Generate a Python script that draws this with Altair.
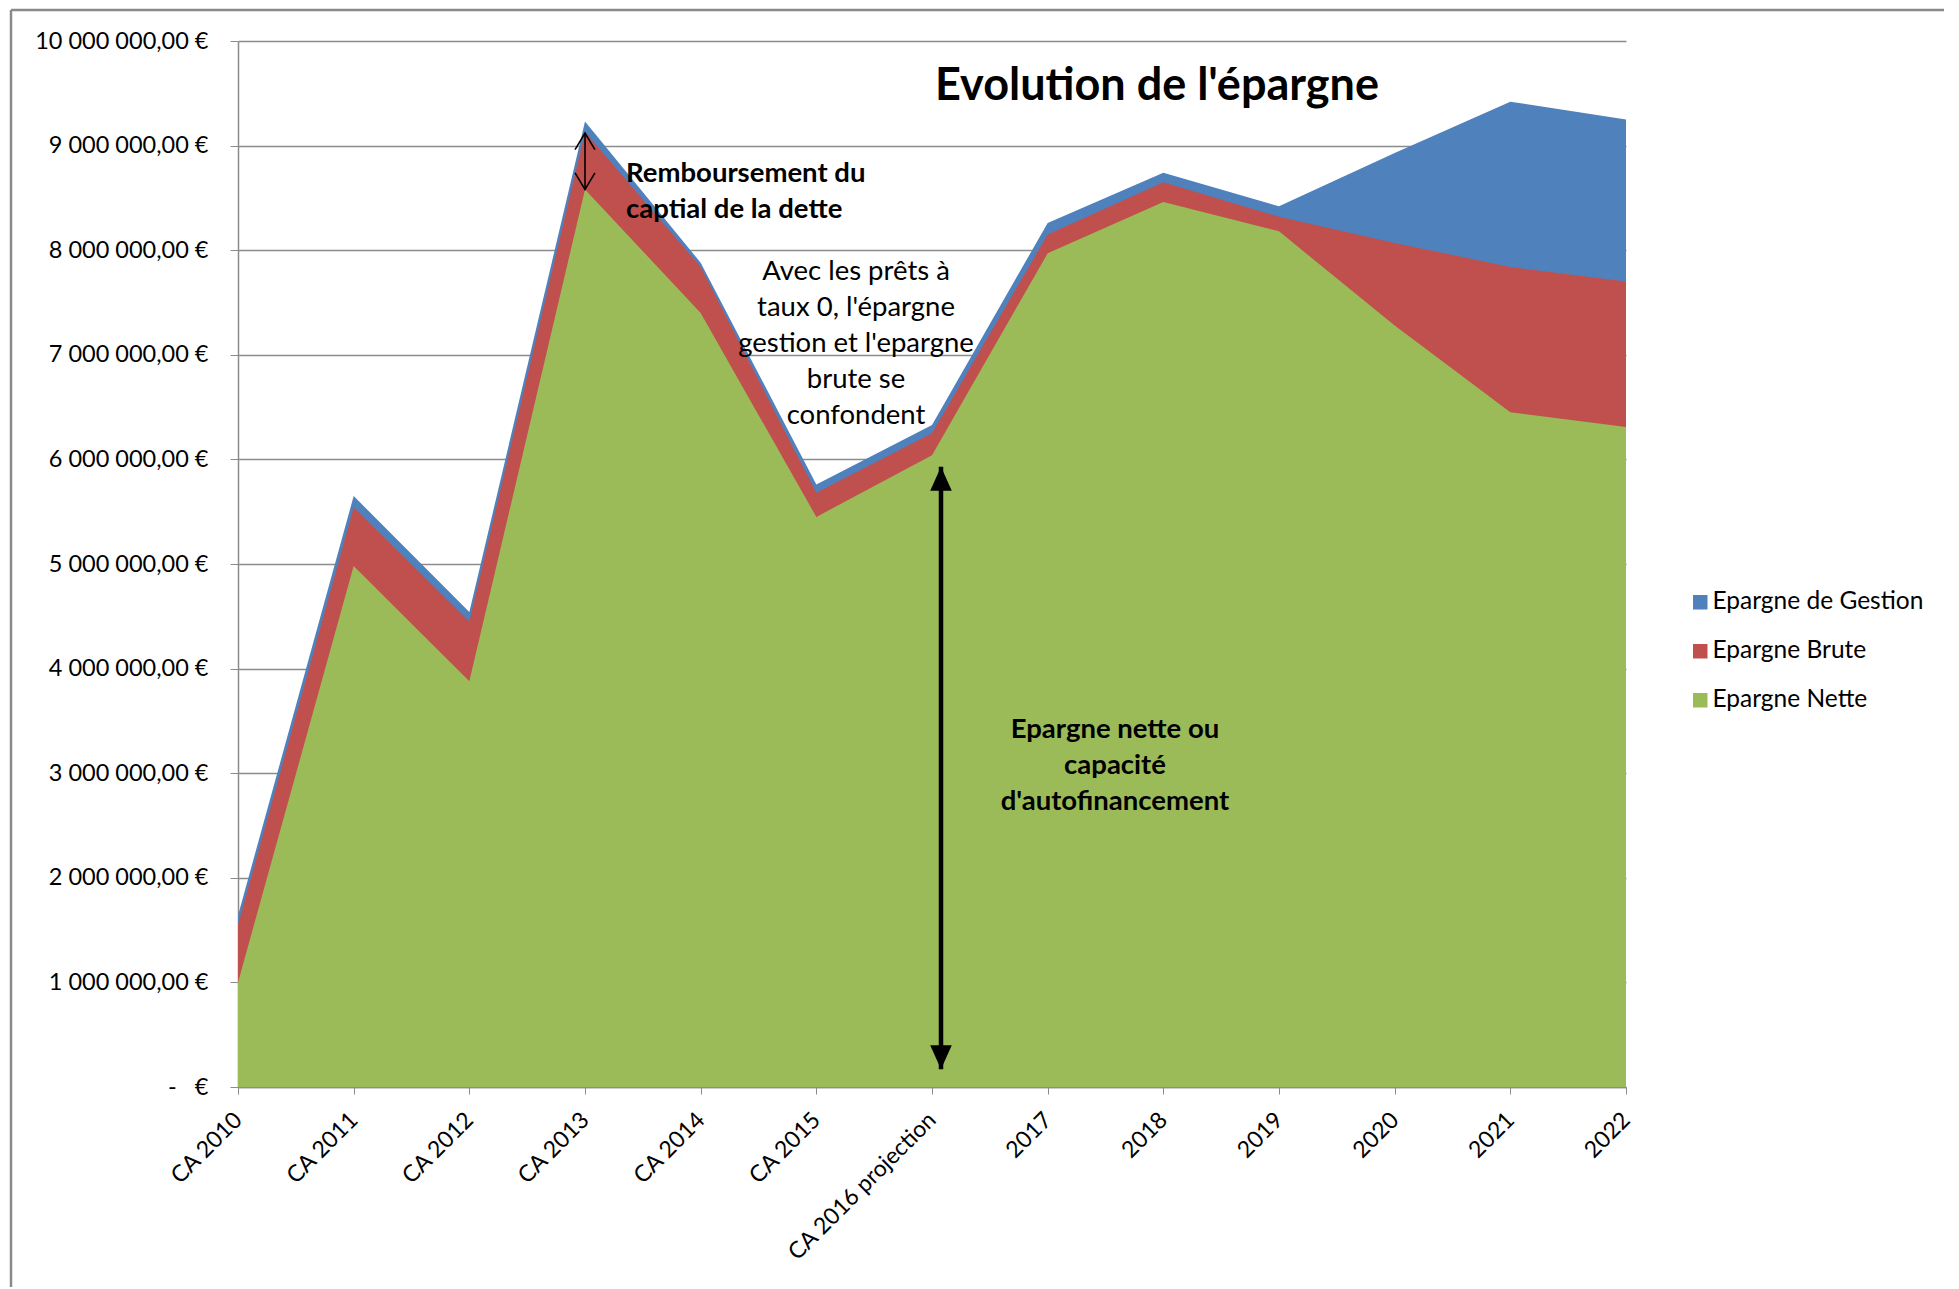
import altair as alt
import pandas as pd

# ---------------- data (values in millions of euros) ----------------
categories = ["CA 2010", "CA 2011", "CA 2012", "CA 2013", "CA 2014", "CA 2015",
              "CA 2016 projection", "2017", "2018", "2019", "2020", "2021", "2022"]
epargne_gestion = [1.64, 5.65, 4.54, 9.23, 7.88, 5.76, 6.33, 8.26, 8.74, 8.42, 8.93, 9.42, 9.25]
epargne_brute = [1.55, 5.54, 4.45, 9.13, 7.84, 5.68, 6.25, 8.15, 8.65, 8.32, 8.07, 7.84, 7.70]
epargne_nette = [1.00, 4.98, 3.88, 8.58, 7.40, 5.45, 6.04, 7.97, 8.46, 8.18, 7.28, 6.45, 6.31]

series_names = ["Epargne de Gestion", "Epargne Brute", "Epargne Nette"]
series_colors = ["#4F81BD", "#C0504D", "#9BBB59"]
y_ticks = [0, 1e6, 2e6, 3e6, 4e6, 5e6, 6e6, 7e6, 8e6, 9e6, 1e7]

title_text = "Evolution de l'épargne"
note_dette = ["Remboursement du", "captial de la dette"]
note_taux = ["Avec les prêts à", "taux 0, l'épargne", "gestion et l'epargne", "brute se", "confondent"]
note_nette = ["Epargne nette ou", "capacité", "d'autofinancement"]

# arrows (category, low value, high value) in millions
small_arrow = ("CA 2013", 8.58, 9.12)
big_arrow = ("CA 2016 projection", 0.17, 5.93)

rows = []
for name, vals in zip(series_names, [epargne_gestion, epargne_brute, epargne_nette]):
    for c, v in zip(categories, vals):
        rows.append({"cat": c, "serie": name, "value": v * 1e6})
df = pd.DataFrame(rows)

FONT = "Lato"
GRID = "#8c8c8c"

x_scale = alt.Scale(type="point", domain=categories, paddingOuter=0)
x_axis = alt.Axis(title=None, labelAngle=-45, labelAlign="right",
                  labelBaseline="middle", labelFontSize=23, labelFont=FONT,
                  labelColor="#000000", labelPadding=22, tickSize=7, labelLimit=500,
                  tickColor=GRID, domainColor=GRID, domainWidth=1.5,
                  grid=False)
x_enc = alt.X("cat:N", sort=categories, scale=x_scale, axis=x_axis)
y_enc = alt.Y("value:Q", scale=alt.Scale(domain=[0, 10_000_000], nice=False),
              axis=alt.Axis(title=None, values=y_ticks,
                            labelExpr="datum.value == 0 ? '-\u00a0\u00a0\u00a0€' : (datum.value/1000000) + '\u00a0000\u00a0000,00\u00a0€'",
                            labelFontSize=23.5, labelFont=FONT, labelColor="#000000",
                            labelPadding=22, tickSize=8, tickColor=GRID, labelLimit=500,
                            domainColor=GRID, domainWidth=1.5,
                            grid=True, gridColor=GRID, gridWidth=1.3))
color_enc = alt.Color("serie:N", scale=alt.Scale(domain=series_names, range=series_colors),
                      legend=alt.Legend(title=None, orient="none", legendX=1450, legendY=549,
                                        symbolType="square", symbolSize=210,
                                        symbolStrokeWidth=0, labelFontSize=24.5,
                                        labelFont=FONT, labelColor="#000000", labelLimit=500,
                                        labelOffset=0, rowPadding=24,
                                        labelExpr="datum.label == 'Epargne de Gestion' ? '\u00a0' + datum.label : datum.label"))

layers = []
for name in series_names:
    layers.append(
        alt.Chart(df).transform_filter(alt.datum.serie == name)
        .mark_area(opacity=1, interpolate="linear")
        .encode(x=x_enc, y=y_enc, color=color_enc)
    )

# ---------------- arrows ----------------
arrow_df = pd.DataFrame([
    {"cat": small_arrow[0], "lo": small_arrow[1] * 1e6, "hi": small_arrow[2] * 1e6, "kind": "small"},
    {"cat": big_arrow[0], "lo": big_arrow[1] * 1e6, "hi": big_arrow[2] * 1e6, "kind": "big"},
])
small_df = arrow_df[arrow_df.kind == "small"]
big_df = arrow_df[arrow_df.kind == "big"]

xs = alt.X("cat:N", sort=categories, scale=x_scale, axis=x_axis)
small_rule = alt.Chart(small_df).mark_rule(color="black", strokeWidth=1.6).encode(
    x=xs, y=alt.Y("lo:Q"), y2="hi:Q")
small_up = alt.Chart(small_df).mark_point(shape="M -0.6 1 L 0 0 L 0.6 1", size=1100,
                                          filled=False, color="black", strokeWidth=1.6,
                                          opacity=1).encode(x=xs, y="hi:Q")
small_down = alt.Chart(small_df).mark_point(shape="M -0.6 -1 L 0 0 L 0.6 -1", size=1100,
                                            filled=False, color="black", strokeWidth=1.6,
                                            opacity=1).encode(x=xs, y="lo:Q")

big_rule = alt.Chart(big_df).mark_rule(color="black", strokeWidth=4.5, xOffset=9).encode(
    x=xs, y=alt.Y("lo:Q"), y2="hi:Q")
big_up = alt.Chart(big_df).mark_point(shape="M 0 0 L 0.45 1 L -0.45 1 Z", size=2300,
                                      filled=True, color="black", opacity=1,
                                      strokeWidth=0, xOffset=9).encode(x=xs, y="hi:Q")
big_down = alt.Chart(big_df).mark_point(shape="M 0 0 L 0.45 -1 L -0.45 -1 Z", size=2300,
                                        filled=True, color="black", opacity=1,
                                        strokeWidth=0, xOffset=9).encode(x=xs, y="lo:Q")

# ---------------- texts ----------------
one = pd.DataFrame({"k": [0]})
title_mark = alt.Chart(one).mark_text(text=title_text, font=FONT, fontSize=45,
                                      fontWeight="bold", color="black",
                                      align="center", baseline="middle").encode(
    x=alt.value(919), y=alt.value(45))
dette_mark = alt.Chart(one).mark_text(text=note_dette, font=FONT, fontSize=27.5,
                                      fontWeight="bold", color="black", lineHeight=36,
                                      align="left", baseline="middle").encode(
    x=alt.value(388), y=alt.value(133))
taux_mark = alt.Chart(one).mark_text(text=note_taux, font=FONT, fontSize=27.5,
                                     color="black", lineHeight=36,
                                     align="center", baseline="middle").encode(
    x=alt.value(618), y=alt.value(231))
nette_mark = alt.Chart(one).mark_text(text=note_nette, font=FONT, fontSize=27.5,
                                      fontWeight="bold", color="black", lineHeight=36,
                                      align="center", baseline="middle").encode(
    x=alt.value(877), y=alt.value(689))

# outer frame of the chart (decoration)
frame_top = alt.Chart(one).mark_rule(color="#8a8a8a", strokeWidth=2.5).encode(
    x=alt.value(-227), x2=alt.value(1710), y=alt.value(-31))
frame_left = alt.Chart(one).mark_rule(color="#8a8a8a", strokeWidth=2.5).encode(
    x=alt.value(-227), y=alt.value(-31), y2=alt.value(1260))

chart = alt.layer(
    *layers, small_rule, small_up, small_down, big_rule, big_up, big_down,
    title_mark, dette_mark, taux_mark, nette_mark, frame_top, frame_left
).properties(
    width=1388, height=1046,
    padding={"left": 230, "top": 33, "right": 318, "bottom": 200},
    autosize=alt.AutoSizeParams(type="none"),
    background="white",
).configure_view(stroke=None).configure_scale(pointPadding=0)

chart.save("out.html", embed_options={"renderer": "svg", "actions": False})
